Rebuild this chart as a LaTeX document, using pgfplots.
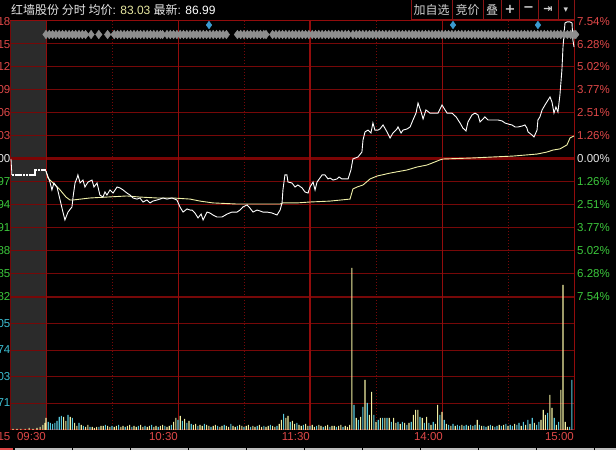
\documentclass[border=0pt]{standalone}
\usepackage{pgfplots}
\pgfplotsset{compat=1.18}
\usepackage{fontspec}
\setmainfont{Liberation Sans}
\newfontfamily\cjk{Noto Sans CJK SC}
\newfontfamily\dejavu{DejaVu Sans}
\definecolor{gridred}{HTML}{760808}
\definecolor{axred}{HTML}{920C0C}
\definecolor{zerored}{HTML}{7C0404}
\definecolor{lblred}{HTML}{E04848}
\definecolor{lblgreen}{HTML}{3CC83C}
\definecolor{lblcyan}{HTML}{3CBED2}
\definecolor{avgyellow}{HTML}{F0F0A8}
\definecolor{volY}{HTML}{F0EEA0}
\definecolor{volC}{HTML}{58C8DC}
\definecolor{greybox}{HTML}{2B2B2B}
\definecolor{diamondgrey}{HTML}{8E8E8E}
\definecolor{diamondblue}{HTML}{3A9AD0}
\definecolor{titlegrey}{HTML}{E6E6E6}
\definecolor{priceyellow}{HTML}{E8E8A0}
\definecolor{btnred}{HTML}{8A1414}
\definecolor{btntext}{HTML}{D0D0D0}
\definecolor{stripgrey}{HTML}{BEBEBE}
\begin{document}
\begin{tikzpicture}[x=1pt,y=1pt]
\fill[black] (0,0) rectangle (616,450);
% premarket box
\fill[greybox] (10,20) rectangle (46,429);
% horizontal grid
\foreach \py in {44,67,90,113,136,182,205,228,251,274,323.6,350.2,376.8,403.4}
  \draw[gridred, line width=1pt] (10,450-\py) -- (574,450-\py);
\draw[zerored, line width=3pt] (10,291) -- (574,291);
\draw[gridred, line width=2pt] (10,153) -- (574,153);
% vertical grid
\foreach \px in {112,244,376,508}
  \draw[gridred, line width=0.8pt, dash pattern=on 1pt off 2pt] (\px,20) -- (\px,429);
\foreach \px in {46,178,442}
  \draw[axred, line width=1pt] (\px,20) -- (\px,429);
\draw[axred, line width=2pt] (310,20) -- (310,429);
\draw[axred, line width=1pt] (574,20) -- (574,450);
\draw[gridred, line width=1pt] (10,20) -- (10,429);
\draw[axred, line width=1pt] (10,429) -- (574,429);
\draw[axred, line width=1pt] (10,20) -- (574,20);

% ---------------- price panel ----------------
\begin{axis}[at={(10pt,153pt)}, anchor=south west, width=564pt, height=276pt,
  scale only axis, xmin=-16.3636, xmax=240, ymin=-7.54, ymax=7.54,
  hide axis, clip=false]
% event markers
\addplot[only marks, mark=diamond*, mark size=4.3pt, mark options={draw=diamondgrey, fill=diamondgrey}] coordinates {
(0,6.80) (1.5,6.80) (3,6.80) (4.5,6.80) (6,6.80) (7.5,6.80) (9,6.80) (10.5,6.80) (12,6.80) (13.5,6.80) (15,6.80) (16.5,6.80) (18,6.80)
(20.5,6.80) (24,6.80) (28,6.80)
(31,6.80) (32.5,6.80) (34,6.80) (35.5,6.80) (37,6.80) (38.5,6.80) (40,6.80) (41.5,6.80) (43,6.80) (44.5,6.80) (46,6.80) (47.5,6.80) (49,6.80) (50.5,6.80) (52,6.80) (53,6.80)
(55,6.80) (56.5,6.80) (58,6.80) (59.5,6.80) (61,6.80) (62.5,6.80) (64,6.80) (65.5,6.80) (67,6.80) (68.5,6.80) (70,6.80) (71.5,6.80) (73,6.80) (74.5,6.80) (76,6.80) (77.5,6.80) (79,6.80) (80.5,6.80) (82,6.80)
(87,6.80) (88.5,6.80) (90,6.80) (91.5,6.80) (93,6.80) (94.5,6.80) (96,6.80) (97.5,6.80) (99,6.80) (100,6.80)
(103,6.80) (104.5,6.80) (106,6.80) (107.5,6.80) (109,6.80) (110.5,6.80) (112,6.80) (113.5,6.80) (115,6.80) (116.5,6.80) (118,6.80) (119.5,6.80) (121,6.80) (122.5,6.80) (124,6.80) (125.5,6.80) (127,6.80) (128.5,6.80) (130,6.80) (131.5,6.80) (133,6.80) (134.5,6.80) (136,6.80) (137.5,6.80)
(139.5,6.80) (141,6.80) (142.5,6.80) (144,6.80) (145.5,6.80) (147,6.80) (148.5,6.80) (150,6.80) (151.5,6.80) (153,6.80) (154.5,6.80) (156,6.80) (157.5,6.80) (159,6.80) (160.5,6.80) (162,6.80) (163.5,6.80) (165,6.80) (166.5,6.80) (168,6.80) (169.5,6.80) (171,6.80) (172.5,6.80) (174,6.80) (175.5,6.80) (177,6.80) (178.5,6.80) (180,6.80) (181.5,6.80) (183,6.80) (184.5,6.80) (186,6.80) (187.5,6.80) (189,6.80) (190.5,6.80) (192,6.80) (193.5,6.80) (195,6.80) (196.5,6.80) (198,6.80) (199.5,6.80) (201,6.80) (202.5,6.80) (204,6.80) (205.5,6.80) (207,6.80) (208.5,6.80) (210,6.80) (211.5,6.80) (213,6.80) (214.5,6.80) (216,6.80) (217.5,6.80) (219,6.80) (220.5,6.80) (222,6.80) (223.5,6.80) (225,6.80) (226.5,6.80) (228,6.80) (229.5,6.80) (231,6.80) (232.5,6.80) (234,6.80) (235.5,6.80) (237,6.80) (238.5,6.80) (240,6.80) (240.8,6.80)
};
\addplot[only marks, mark=diamond*, mark size=3.8pt, mark options={draw=diamondblue, fill=diamondblue}] coordinates {
(74.1,7.32) (185,7.32) (223.6,7.32)
};
% pre-market
\addplot[white, line width=0.8pt] coordinates {(-15.9,0) (-15.5,-0.87)};
\addplot[white, line width=2.6pt, dash pattern=on 2.2pt off 0.6pt] coordinates {(-15.5,-0.87) (-5,-0.87) (-5,-0.60) (0,-0.60)};
% average price
\addplot[avgyellow, line width=0.9pt] coordinates {
(0,-0.66) (0.9,-1.04) (3.2,-1.31) (6.4,-1.69) (9.1,-2.08) (10.9,-2.24) (12.3,-2.24) (20,-2.13) (27.7,-2.08) (36.8,-2.02) (42.7,-2.08) (50.5,-2.13) (57.7,-2.13) (65.5,-2.19) (70,-2.30) (75.9,-2.40) (86.8,-2.46) (106.4,-2.46) (107.7,-2.40) (114.1,-2.40) (120,-2.35) (129.1,-2.30) (138.2,-2.19) (139.5,-1.64) (141.4,-1.53) (144.1,-1.42) (147.3,-1.09) (150.5,-0.93) (156.4,-0.77) (164.1,-0.60) (168.6,-0.44) (173.2,-0.33) (179.1,-0.05) (180.5,0) (192.7,0.05) (203.2,0.11) (212.3,0.16) (223.2,0.27) (227.7,0.38) (230.5,0.49) (233.6,0.55) (236.8,0.77) (238.2,1.15) (240,1.26)
};
% price
\addplot[white, line width=0.9pt] coordinates {
(0,-0.66) (0.3,-0.77) (1.8,-1.26) (2.7,-1.69) (3.6,-1.31) (5,-1.53) (6.4,-2.24) (7.7,-2.90) (8.6,-3.33) (10,-2.90) (11.8,-2.62) (12.3,-2.08) (13.2,-1.31) (14.1,-1.04) (14.5,-0.87) (15.5,-1.31) (16.8,-1.15) (17.7,-1.53) (19.1,-1.26) (20.9,-1.15) (21.8,-1.53) (23.2,-1.31) (24.5,-1.97) (25.9,-2.08) (26.8,-1.80) (27.7,-1.97) (29.1,-1.69) (30.5,-1.86) (32.3,-1.53) (33.6,-1.58) (35,-1.69) (36.8,-1.86) (38.2,-1.97) (39.5,-2.13) (41.4,-2.19) (42.7,-2.13) (44.1,-2.35) (45.9,-2.24) (47.3,-2.40) (48.6,-2.30) (50.5,-2.24) (51.8,-2.19) (53.2,-2.13) (55,-2.19) (57.3,-2.13) (59.5,-2.24) (60.9,-2.62) (62.3,-2.90) (64.1,-2.73) (65.5,-2.79) (66.4,-2.79) (67.7,-2.95) (69.1,-3.22) (70.5,-3.01) (71.4,-3.33) (73.2,-2.90) (74.5,-2.95) (75.9,-3.06) (77.7,-3.17) (80,-3.17) (82.3,-3.01) (84.5,-2.90) (86.8,-2.90) (88.2,-2.79) (89.5,-2.62) (91.4,-2.51) (92.7,-2.68) (94.1,-2.90) (95.9,-2.79) (97.3,-2.84) (98.6,-2.90) (100.5,-2.90) (102.7,-2.95) (105,-3.06) (106.4,-2.79) (107.3,-2.40) (107.7,-1.69) (108.6,-0.87) (109.5,-0.87) (110,-1.26) (111.8,-1.31) (113.2,-1.53) (114.5,-1.42) (116.4,-1.58) (117.7,-1.80) (119.1,-1.86) (120,-1.53) (121.4,-1.26) (122.3,-1.69) (123.2,-1.26) (125.5,-0.87) (126.8,-0.87) (128.2,-1.09) (129.1,-1.04) (130.5,-1.15) (132.3,-1.09) (133.2,-0.98) (134.5,-1.09) (135.9,-1.09) (137.3,-1.09) (138.6,-0.60) (139.5,0) (140.5,0.05) (141.8,0.11) (143.6,0.38) (144.1,1.04) (145,1.48) (146.4,1.58) (147.7,1.42) (148.6,1.97) (149.5,1.58) (150.9,1.58) (151.8,1.64) (153.2,1.86) (155,1.48) (156.4,1.15) (157.7,1.42) (159.5,1.64) (160,1.75) (161.4,1.42) (162.3,1.58) (164.1,1.64) (165.5,1.75) (166.8,2.13) (168.2,2.51) (169.1,3.06) (170.5,2.57) (171.4,2.19) (172.7,2.68) (174.5,2.51) (176.8,2.51) (178.2,2.51) (180,2.95) (181.4,2.68) (182.3,2.51) (184.5,2.51) (186.4,2.30) (188.2,1.97) (189.5,1.69) (190.9,1.53) (191.8,2.02) (193.6,2.40) (195,2.51) (196.4,2.40) (197.3,2.02) (198.2,2.13) (199.5,2.30) (200.9,2.13) (202.7,2.13) (204.1,2.13) (205.5,2.13) (207.3,2.08) (208.6,1.97) (210,1.91) (211.8,1.86) (213.2,1.75) (214.5,1.75) (216.4,1.80) (217.7,1.86) (218.6,1.69) (219.1,1.48) (220.9,1.31) (221.8,1.20) (223.2,1.58) (223.6,2.13) (224.5,2.30) (225.5,2.68) (226.8,2.95) (228.2,3.22) (229.1,3.39) (230,3.11) (230.9,2.51) (231.8,2.84) (232.7,2.57) (233.6,3.50) (234.5,4.86) (235,6.12) (235.9,7.43) (236.8,7.49) (238.2,7.49) (239.1,7.43) (239.5,6.50) (240,6.12)
};
\end{axis}

% ---------------- volume panel ----------------
\begin{axis}[at={(10pt,20pt)}, anchor=south west, width=564pt, height=133pt,
  scale only axis, xmin=-16.3636, xmax=240, ymin=0, ymax=133,
  hide axis, clip=false]
\addplot[ybar, bar width=1.1pt, bar shift=0pt, fill=volY, draw=none] coordinates {
(-15,1) (-13.2,1) (-11.4,1) (-9.5,1) (-7.7,2) (-5.9,1) (-4.1,2) (-2.7,3) (-1.4,5) (-0.5,7)
(0,12) (8,13) (9,9) (11,13) (13,7) (14,4) (16,5) (18,3) (19,5) (21,3) (22,2) (23,3) (25,4) (26,4) (28,4) (29,3) (31,3) (32,4) (34,3) (35,4) (37,4) (38,5) (40,4) (41,3) (43,5) (44,3) (46,3) (47,4) (49,3) (50,4) (52,4) (53,5) (55,3) (56,4) (58,8) (59,12) (61,14) (63,11) (65,9) (67,5) (68,6) (70,5) (71,4) (73,5) (74,4) (76,4) (77,5) (79,3) (80,4) (82,4) (83,3) (85,4) (86,3) (88,5) (89,4) (91,4) (92,5) (94,4) (95,3) (97,5) (98,3) (100,3) (101,4) (103,4) (104,3) (106,6) (107,10) (109,12) (110,14) (112,9) (113,6) (115,5) (116,4) (118,6) (119,4) (121,5) (122,3) (124,5) (125,4) (127,4) (128,5) (130,4) (131,4) (133,4) (134,5) (136,4) (137,3) (138,5) (139,162) (141,12) (143,13) (145,50) (147,15) (148,38) (150,8) (152,12) (154,12) (156,12) (158,12) (159,7) (161,6) (163,7) (165,7) (167,15) (168,20) (169,20) (171,12) (173,13) (175,5) (177,6) (178,25) (180,18) (182,6) (184,4) (186,4) (189,5) (192,4) (194,4) (196,10) (198,4) (201,4) (203,4) (206,5) (208,5) (210,4) (213,6) (216,4) (218,5) (220,6) (222,7) (225,10) (226,20) (227,15) (229,35) (230,22) (232,5) (234,40) (235,145) (236,8) (237,3)
};
\addplot[ybar, bar width=1.1pt, bar shift=0pt, fill=volC, draw=none] coordinates {
(1,8) (2,7) (3,6) (4,7) (5,9) (6,13) (7,14) (10,15) (12,12) (15,7) (17,4) (20,3) (24,3) (27,5) (30,4) (33,5) (36,3) (39,3) (42,4) (45,4) (48,5) (51,3) (54,4) (57,5) (60,10) (62,9) (64,7) (66,6) (69,4) (72,6) (75,3) (78,4) (81,5) (84,6) (87,4) (90,3) (93,3) (96,4) (99,4) (102,5) (105,4) (108,16) (111,8) (114,7) (117,5) (120,4) (123,4) (126,3) (129,3) (132,3) (135,3) (140,25) (142,10) (144,23) (146,27) (149,15) (151,10) (153,12) (155,12) (157,8) (160,8) (162,8) (164,5) (166,8) (170,13) (172,7) (174,7) (176,8) (179,15) (181,10) (183,5) (185,6) (187,5) (188,4) (190,4) (191,5) (193,5) (195,5) (197,5) (199,4) (200,3) (202,5) (204,3) (205,4) (207,4) (209,6) (211,5) (212,4) (214,5) (215,7) (217,8) (219,10) (221,12) (223,5) (224,8) (228,17) (231,12) (233,8) (238,3) (239,50)
};
\end{axis}

% ---------------- labels ----------------
\tikzset{lbl/.style={inner sep=0pt, font=\fontsize{11.5}{12}\selectfont}}
% right percent labels
\foreach \py/\t in {22/7.54\%,45/6.28\%,67/5.02\%,90/3.77\%,113/2.51\%,136/1.26\%}
  \node[lbl, anchor=west, text=lblred] at (577,450-\py) {\t};
\node[lbl, anchor=west, text=titlegrey] at (577,291) {0.00\%};
\foreach \py/\t in {182/1.26\%,205/2.51\%,228/3.77\%,251/5.02\%,274/6.28\%,297/7.54\%}
  \node[lbl, anchor=west, text=lblgreen] at (577,450-\py) {\t};
% left price labels (cut by the page edge, as in the reference)
\foreach \py/\t in {22/88.18,45/87.15,67/86.12,90/85.09,113/84.06,136/83.03}
  \node[lbl, anchor=east, text=lblred] at (10.5,450-\py) {\t};
\node[lbl, anchor=east, text=titlegrey] at (10.5,291) {82.00};
\foreach \py/\t in {182/80.97,205/79.94,228/78.91,251/77.88,274/76.85,297/75.82}
  \node[lbl, anchor=east, text=lblgreen] at (10.5,450-\py) {\t};
\foreach \py/\t in {324/05,350/74,377/03,403/71}
  \node[lbl, anchor=east, text=lblcyan] at (10.5,450-\py) {\t};
% time labels
\foreach \px/\t in {10.5/09:15,46/09:30,178/10:30,310/11:30,443/14:00,574/15:00}
  \node[lbl, anchor=east, text=lblred] at (\px,13) {\t};
% bottom strip
\fill[lblred] (0,0) rectangle (13,2.5);
\fill[stripgrey] (15,0) rectangle (616,2.5);
\foreach \px in {72.5,130,188,246,304,362,420,478,536,594}
  \draw[black, line width=1pt] (\px,0) -- (\px,2.5);
% title
\node[inner sep=0pt, anchor=west, font=\fontsize{12}{13}\selectfont, text=titlegrey] at (11,440)
  {{\cjk 红墙股份 分时 均价}: \textcolor{priceyellow}{83.03} {\cjk 最新}: \textcolor{white}{86.99}};
% buttons
\foreach \a/\b in {411/452,452/483,483/501,501/519,519/538,538/558,558/574}
  \draw[btnred, line width=1pt] (\a,451) rectangle (\b,430);
\node[inner sep=0pt, font=\cjk\fontsize{12}{13}\selectfont, text=btntext] at (431.5,440) {加自选};
\node[inner sep=0pt, font=\cjk\fontsize{12}{13}\selectfont, text=btntext] at (467.5,440) {竞价};
\node[inner sep=0pt, font=\cjk\fontsize{12}{13}\selectfont, text=btntext] at (492,440) {叠};
\node[inner sep=0pt, font=\dejavu\bfseries\fontsize{13}{13}\selectfont, text=btntext] at (510,440.5) {+};
\node[inner sep=0pt, font=\dejavu\bfseries\fontsize{13}{13}\selectfont, text=btntext] at (528.5,440.5) {−};
\node[inner sep=0pt, font=\dejavu\bfseries\fontsize{11}{13}\selectfont, text=btntext] at (548,440.5) {⇥};
\node[inner sep=0pt, font=\dejavu\fontsize{9}{10}\selectfont, text=btntext] at (566,440) {▾};
\pgfresetboundingbox
\useasboundingbox (0,0) rectangle (616,450);
\end{tikzpicture}
\end{document}
